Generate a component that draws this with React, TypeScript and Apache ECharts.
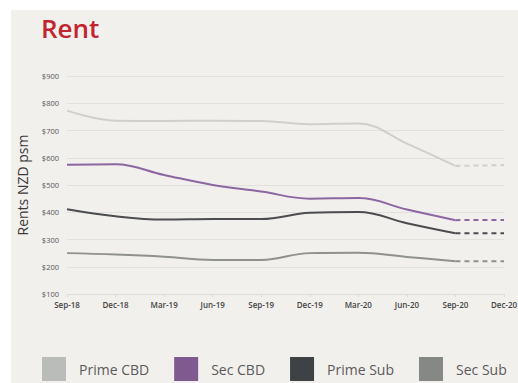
import React, { useEffect, useRef } from "react";
import * as echarts from "echarts";

const categories = ["Sep-18", "Dec-18", "Mar-19", "Jun-19", "Sep-19", "Dec-19", "Mar-20", "Jun-20", "Sep-20", "Dec-20"];
const primeCBD = [773, 736, 735, 736, 735, 723, 726, 652, 570, 573];
const secCBD = [574, 576, 537, 500, 476, 450, 452, 410, 371, 372];
const primeSub = [411, 385, 373, 375, 375, 398, 401, 360, 323, 323];
const secSub = [250, 245, 237, 225, 225, 250, 251, 236, 220, 220];
const seriesNames = ["Prime CBD", "Sec CBD", "Prime Sub", "Sec Sub"];
const lineColors = ["#cfd0cc", "#8c66a0", "#4a4c4f", "#8f918f"];
const legendColors = ["#b9bcb8", "#7f5a91", "#3f4245", "#858885"];
const yTicks = [100, 200, 300, 400, 500, 600, 700, 800, 900];

const FONT = "'Open Sans', 'Noto Sans', sans-serif";

export default function App() {
  const ref = useRef<HTMLDivElement>(null);
  useEffect(() => {
    if (!ref.current) return;
    const chart = echarts.init(ref.current, undefined, { renderer: "svg" });
    const all = [primeCBD, secCBD, primeSub, secSub];
    const last = categories.length - 1;
    const series: any[] = [];
    all.forEach((vals, i) => {
      series.push({
        name: seriesNames[i],
        type: "line",
        smooth: 0.4,
        symbol: "none",
        data: vals.map((v, j) => (j < last ? v : null)),
        lineStyle: { color: lineColors[i], width: 2 },
        itemStyle: { color: lineColors[i] },
        z: 3,
      });
      series.push({
        name: seriesNames[i],
        type: "line",
        symbol: "none",
        data: vals.map((v, j) => (j >= last - 1 ? v : null)),
        lineStyle: { color: lineColors[i], width: 2, type: [5, 4] },
        itemStyle: { color: lineColors[i] },
        z: 3,
      });
    });
    chart.setOption({
      animation: false,
      backgroundColor: "#f2f0ed",
      title: {
        text: "Rent",
        left: 25,
        top: 0,
        padding: 5,
        textStyle: { color: "#c1252d", fontSize: 26, fontWeight: 600, fontFamily: FONT },
      },
      grid: { left: 56, right: 14, top: 66, bottom: 89, containLabel: false, outerBoundsMode: "none" },
      legend: {
        left: 26,
        top: 342,
        width: 490,
        icon: "rect",
        itemWidth: 24,
        itemHeight: 24,
        itemGap: 25,
        data: seriesNames.map((n, i) => ({ name: n, itemStyle: { color: legendColors[i] } })),
        textStyle: { color: "#5a5a5a", fontSize: 14, fontFamily: FONT, padding: [0, 0, 0, 8] },
      },
      xAxis: {
        type: "category",
        data: categories,
        boundaryGap: false,
        axisLine: { show: true, lineStyle: { color: "#dedcd8" } },
        axisTick: { show: true, length: 3, lineStyle: { color: "#dedcd8" } },
        axisLabel: { color: "#444", fontSize: 8, fontWeight: 600, fontFamily: FONT, margin: 6 },
      },
      yAxis: {
        type: "value",
        min: yTicks[0],
        max: yTicks[yTicks.length - 1],
        interval: 100,
        name: "Rents NZD psm",
        nameLocation: "middle",
        nameGap: 38,
        nameTextStyle: { color: "#3a3a3a", fontSize: 14, fontFamily: FONT },
        axisLine: { show: false },
        axisTick: { show: false },
        splitLine: { lineStyle: { color: "#e3e1dd", width: 1 } },
        axisLabel: {
          color: "#555",
          fontSize: 7.5,
          fontFamily: FONT,
          margin: 8,
          formatter: (v: number) => "$" + v,
        },
      },
      series,
    });
    return () => chart.dispose();
  }, []);
  return (
    <div>
      <div ref={ref} style={{ position: "fixed", left: 11, top: 10, width: 507, height: 373 }} />
    </div>
  );
}
